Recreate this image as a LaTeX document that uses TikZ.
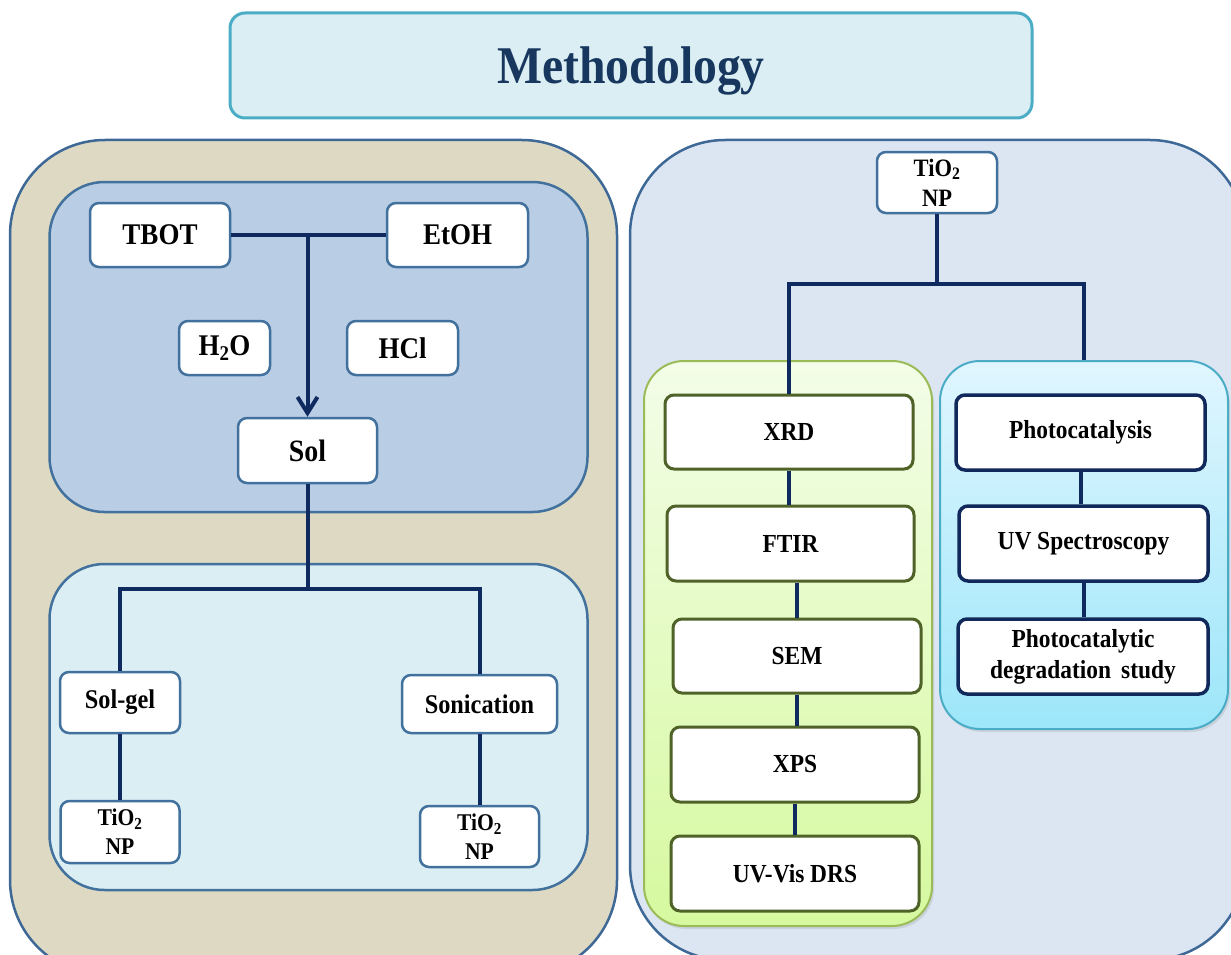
\documentclass[tikz,border=0pt]{standalone}
\usepackage{fontspec}
\setmainfont{Liberation Serif}[FakeStretch=0.9]
\usetikzlibrary{arrows.meta,shadows}
\definecolor{tan}{HTML}{DDD9C3}
\definecolor{panelblue}{HTML}{3E6896}
\definecolor{nodeblue}{HTML}{41719C}
\definecolor{innertop}{HTML}{B9CDE5}
\definecolor{innerbot}{HTML}{DBEEF4}
\definecolor{rightfill}{HTML}{DCE6F2}
\definecolor{navy}{HTML}{0E2A5E}
\definecolor{olive}{HTML}{4F6228}
\definecolor{cyanbox}{HTML}{10285A}
\definecolor{greenbd}{HTML}{9BBB59}
\definecolor{greentop}{HTML}{F3FDE8}
\definecolor{greenbot}{HTML}{D6F99F}
\definecolor{cyanbd}{HTML}{4BACC6}
\definecolor{cyantop}{HTML}{E0F6FE}
\definecolor{cyanbot}{HTML}{9DE6FA}
\definecolor{titlefill}{HTML}{DAEEF3}
\definecolor{titletext}{HTML}{17375E}
\begin{document}
\begin{tikzpicture}[x=1pt,y=-1pt,
  wh/.style 2 args={minimum width=#1pt, minimum height=#2pt},
  panel/.style={draw=panelblue, line width=2.5pt, inner sep=0pt},
  box/.style={draw=nodeblue, fill=white, line width=2.5pt, rounded corners=9pt, inner sep=0pt, align=center, text=black},
  bigtxt/.style={font=\bfseries\fontsize{30}{34}\selectfont},
  midtxt/.style={font=\bfseries\fontsize{26}{31}\selectfont},
  smtxt/.style={font=\bfseries\fontsize{24}{29}\selectfont},
  gbox/.style={box, draw=olive, line width=3pt, midtxt},
  cbox/.style={box, draw=cyanbox, line width=3.5pt, midtxt},
  conn/.style={draw=navy, line width=4pt},
]
\useasboundingbox (0,0) rectangle (1231,955);
\clip (0,0) rectangle (1231,955);

% title
\node[draw=cyanbd, fill=titlefill, line width=3pt, rounded corners=15pt, wh={802}{105}, inner sep=0pt,
      text depth=0pt, font=\bfseries\fontsize{53}{60}\selectfont, text=titletext] (title) at (631,65.5) {Methodology};

% panels
\node[panel, fill=tan, rounded corners=95pt, wh={607}{835}] (panelL) at (313.5,557.5) {};
\node[panel, fill=innertop, draw=nodeblue, rounded corners=55pt, wh={538}{330}] (panelLT) at (318.5,347) {};
\node[panel, fill=innerbot, draw=nodeblue, rounded corners=55pt, wh={538}{326}] (panelLB) at (318.5,727) {};
\node[panel, fill=rightfill, rounded corners=95pt, wh={615}{820}] (panelR) at (937.5,550) {};
\node[draw=greenbd, line width=2pt, top color=greentop, bottom color=greenbot, rounded corners=40pt,
      wh={288}{565}, inner sep=0pt, drop shadow={opacity=0.2, shadow xshift=2pt, shadow yshift=-3pt}] (panelG) at (788,643.5) {};
\node[draw=cyanbd, line width=2pt, top color=cyantop, bottom color=cyanbot, rounded corners=40pt,
      wh={288}{368}, inner sep=0pt, drop shadow={opacity=0.2, shadow xshift=2pt, shadow yshift=-3pt}] (panelC) at (1084,545) {};

% left nodes
\node[box, bigtxt, wh={140}{64}] (tbot) at (160,235) {TBOT};
\node[box, bigtxt, wh={141}{64}] (etoh) at (457.5,235) {EtOH};
\node[box, bigtxt, wh={91}{54}] (h2o) at (224.5,348) {H\textsubscript{2}O};
\node[box, bigtxt, wh={111}{54}] (hcl) at (402.5,348) {HCl};
\node[box, font=\bfseries\fontsize{31}{34}\selectfont, wh={139}{65}] (sol) at (307.5,450.5) {Sol};
\node[box, font=\bfseries\fontsize{27}{31}\selectfont, wh={120}{61}] (solgel) at (120,702.5) {Sol-gel};
\node[box, font=\bfseries\fontsize{27}{31}\selectfont, wh={155}{58}] (sonic) at (479.5,704) {Sonication};
\node[box, smtxt, wh={119}{62}] (np1) at (120,832) {TiO\textsubscript{2}\\NP};
\node[box, smtxt, wh={119}{61}] (np2) at (479.5,836.5) {TiO\textsubscript{2}\\NP};

% right nodes
\node[box, font=\bfseries\fontsize{25}{30}\selectfont, wh={120}{61}] (np3) at (937,182.5) {TiO\textsubscript{2}\\NP};
\node[gbox, wh={248}{74}] (xrd) at (789,432) {XRD};
\node[gbox, wh={247}{75}] (ftir) at (790.5,543.5) {FTIR};
\node[gbox, wh={248}{74}] (sem) at (797,656) {SEM};
\node[gbox, wh={248}{75}] (xps) at (795,764.5) {XPS};
\node[gbox, wh={248}{75}] (uvvis) at (795,873.5) {UV-Vis DRS};
\node[cbox, wh={249}{75}] (photo) at (1080.5,432.5) {Photocatalysis};
\node[cbox, wh={249}{75}] (uvspec) at (1083.5,543.5) {UV Spectroscopy};
\node[cbox, font=\bfseries\fontsize{26}{31}\selectfont, wh={250}{75}] (pds) at (1083,656.5) {Photocatalytic\\degradation\, study};

% connectors left
\coordinate (j1) at (307.5,236);
\coordinate (j2) at (307.5,589);
\draw[conn] (tbot.east) -- (etoh.west);
\draw[conn, -{Straight Barb[length=16pt,width=20pt,line width=4pt]}] (j1) -- (sol.north);
\draw[conn] (sol.south) -- (j2);
\draw[conn] (solgel.north) |- (j2) -| (sonic.north);
\draw[conn] (solgel.south) -- (np1.north);
\draw[conn] (sonic.south) -- (np2.north);

% connectors right
\coordinate (j3) at (937,284);
\draw[conn] (np3.south) -- (j3);
\draw[conn] (xrd.north) |- (j3) -| (panelC.north);
\draw[conn] (xrd.south) -- (xrd.south |- ftir.north);
\draw[conn] (sem.north |- ftir.south) -- (sem.north);
\draw[conn] (sem.south) -- (sem.south |- xps.north);
\draw[conn] (xps.south) -- (uvvis.north);
\draw[conn] (photo.south) -- (photo.south |- uvspec.north);
\draw[conn] (uvspec.south) -- (uvspec.south |- pds.north);
\end{tikzpicture}
\end{document}
